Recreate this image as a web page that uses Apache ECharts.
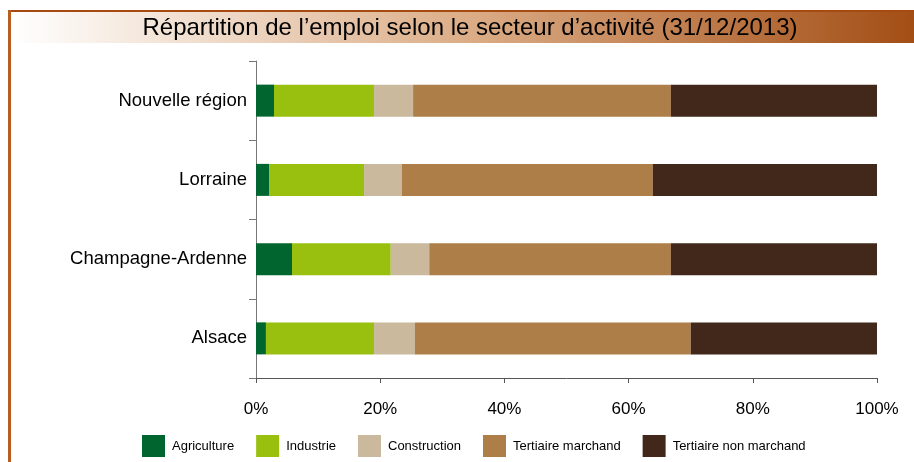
<!DOCTYPE html>
<html>
<head>
<meta charset="utf-8">
<script src="https://cdn.jsdelivr.net/npm/echarts@6/dist/echarts.min.js"></script>
<style>
  html, body { margin: 0; padding: 0; background: #fff; }
  #chart { width: 914px; height: 462px; }
</style>
</head>
<body>
<div id="chart"></div>
<script>
// régions, de bas en haut (ordre de l'axe)
const regions = ['Alsace', 'Champagne-Ardenne', 'Lorraine', 'Nouvelle région'];

// parts de l'emploi en % (même ordre que regions)
const agriculture = [1.6, 5.8, 2.1, 2.9];
const industrie = [17.4, 15.9, 15.3, 16.1];
const construction = [6.6, 6.2, 6.1, 6.3];
const tertiaireMarchand = [44.4, 38.9, 40.4, 41.5];
const tertiaireNonMarchand = [30.0, 33.2, 36.1, 33.2];

const seriesNames = ['Agriculture', 'Industrie', 'Construction', 'Tertiaire marchand', 'Tertiaire non marchand'];
const seriesValues = [agriculture, industrie, construction, tertiaireMarchand, tertiaireNonMarchand];
const colors = ['#00652e', '#99c00f', '#cab99c', '#ae7e48', '#42281b'];

const xTicks = [0, 20, 40, 60, 80, 100];

const FONT = '"Liberation Sans", Arial, sans-serif';

const chart = echarts.init(document.getElementById('chart'), null, { renderer: 'canvas' });

const option = {
  animation: false,
  backgroundColor: '#ffffff',
  graphic: [
    // bandeau du titre (dégradé blanc -> brun)
    {
      type: 'rect',
      shape: { x: 11, y: 12, width: 903, height: 31 },
      style: {
        fill: new echarts.graphic.LinearGradient(0, 0, 1, 0, [
          { offset: 0, color: '#ffffff' },
          { offset: 0.5, color: '#dcae88' },
          { offset: 1, color: '#a34e15' },
        ]),
      },
      silent: true,
    },
    // filets du cadre
    { type: 'rect', shape: { x: 8, y: 10, width: 906, height: 2 }, style: { fill: '#a64a12' }, silent: true },
    { type: 'rect', shape: { x: 8, y: 10, width: 3, height: 452 }, style: { fill: '#b85c22' }, silent: true },
    {
      type: 'text',
      x: 470,
      y: 28,
      style: {
        text: 'Répartition de l’emploi selon le secteur d’activité (31/12/2013)',
        font: '24px ' + FONT,
        fill: '#000',
        align: 'center',
        verticalAlign: 'middle',
      },
      silent: true,
    },
  ],
  legend: {
    data: seriesNames,
    left: 137,
    top: 430,
    itemWidth: 23,
    itemHeight: 22,
    itemGap: 22,
    icon: 'rect',
    textStyle: { fontFamily: FONT, fontSize: 13, color: '#000', padding: [0, 0, 0, 2] },
  },
  grid: {
    left: 256,
    right: 37,
    top: 61,
    bottom: 84,
    containLabel: false,
  },
  xAxis: {
    type: 'value',
    min: 0,
    max: 100,
    interval: 20,
    splitLine: { show: false },
    axisLine: { show: true, lineStyle: { color: '#555', width: 1 } },
    axisTick: { show: true, length: 5, lineStyle: { color: '#555' } },
    axisLabel: {
      margin: 23,
      fontFamily: FONT,
      fontSize: 17,
      color: '#000',
      formatter: (v) => (xTicks.includes(v) ? v + '%' : ''),
    },
  },
  yAxis: {
    type: 'category',
    data: regions,
    axisLine: { show: true, lineStyle: { color: '#777', width: 1 } },
    axisTick: { show: true, length: 7, lineStyle: { color: '#777' } },
    axisLabel: { margin: 9, fontFamily: FONT, fontSize: 18.5, color: '#000' },
  },
  series: seriesNames.map((name, i) => ({
    name: name,
    type: 'bar',
    stack: 'total',
    barWidth: 32,
    itemStyle: { color: colors[i] },
    data: seriesValues[i],
  })),
};

chart.setOption(option);
</script>
</body>
</html>
